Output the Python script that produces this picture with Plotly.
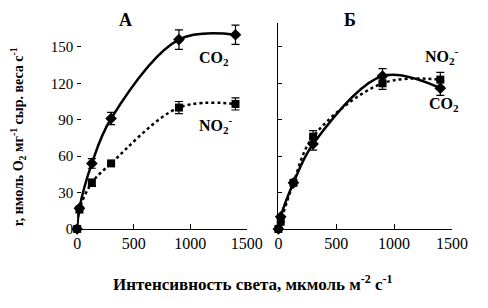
import plotly.graph_objects as go

light = [0, 20, 130, 300, 900, 1400]
a_co2 = [0, 17, 54, 91, 156, 160]
a_co2_err = [None, None, 4, 5, 8, 8]
a_no2 = [0, 16, 38, 54, 100, 103]
a_no2_err = [None, None, 3, None, 5, 5]
b_co2 = [0, 10, 38, 70, 126, 116]
b_co2_err = [None, None, None, 5, 6, 6]
b_no2 = [0, 6, 38, 76, 120, 123]
b_no2_err = [None, None, None, 5, 5, 6]
x_ticks = [0, 500, 1000, 1500]
y_ticks = [0, 30, 60, 90, 120, 150]

FONT = "Liberation Serif"
fig = go.Figure()

def add(x, y, err, xa, ya, symbol, dash):
    fig.add_trace(go.Scatter(
        x=x, y=y, xaxis=xa, yaxis=ya, mode="lines+markers",
        line=dict(color="black", width=2.5, dash=dash, shape="spline", smoothing=1.0),
        marker=dict(symbol=symbol, size=9 if symbol == "diamond" else 8, color="black"),
        error_y=dict(type="data", array=err, color="black", thickness=1.2, width=4),
        cliponaxis=False, showlegend=False))

add(light, a_co2, a_co2_err, "x", "y", "diamond", "solid")
add(light, a_no2, a_no2_err, "x", "y", "square", "dot")
add(light, b_co2, b_co2_err, "x2", "y2", "diamond", "solid")
add(light, b_no2, b_no2_err, "x2", "y2", "square", "dot")

# page body has an 8px margin; work in window pixel coordinates
OFF = 8
W, H = 488 - OFF, 308 - OFF
def px(v):
    return (v - OFF) / W
def py(v):
    return (H - (v - OFF)) / H

xcommon = dict(range=[0, 1500], tickvals=x_ticks, ticks="inside", ticklen=5,
               tickcolor="black", showline=True, linecolor="black", linewidth=1,
               showgrid=False, zeroline=False,
               tickfont=dict(family=FONT, size=16, color="black"))
ycommon = dict(range=[0, 170], tickvals=y_ticks, ticks="inside", ticklen=4,
               tickcolor="black", showgrid=False, zeroline=False,
               tickfont=dict(family=FONT, size=15, color="black"))

fig.update_layout(
    width=W, height=H, margin=dict(l=0, r=0, t=0, b=0),
    plot_bgcolor="white", paper_bgcolor="white",
    xaxis=dict(domain=[px(76), px(253)], anchor="y", **xcommon),
    yaxis=dict(domain=[py(235), py(23)], anchor="x", showline=False,
               showticklabels=True, ticklabelstandoff=3, **ycommon),
    xaxis2=dict(domain=[px(286), px(467)], anchor="y2", **xcommon),
    yaxis2=dict(domain=[py(235), py(23)], anchor="x2", showline=True,
                linecolor="black", linewidth=1, showticklabels=False, **ycommon),
)

def ann(text, x, y, size=15, angle=0):
    fig.add_annotation(text=text, x=px(x), y=py(y), xref="paper", yref="paper",
                       showarrow=False, textangle=angle, xanchor="center", yanchor="middle",
                       font=dict(family=FONT, size=size, color="black"))

ann("<b>А</b>", 126, 20, 18)
ann("<b>Б</b>", 361, 20, 18)
ann("<b>CO<sub>2</sub></b>", 219, 60, 16)
ann("<b>NO<sub>2</sub><sup>-</sup></b>", 221, 128, 16)
ann("<b>NO<sub>2</sub><sup>-</sup></b>", 457, 57, 16)
ann("<b>CO<sub>2</sub></b>", 459, 107, 16)
ann("<b>r, нмоль O<sub>2</sub> мг<sup>-1</sup> сыр. веса с<sup>-1</sup></b>", 15, 140, 14, -90)
ann("<b>Интенсивность света, мкмоль м<sup>-2</sup> с<sup>-1</sup></b>", 259, 291, 17)

fig.write_html("out.html")
